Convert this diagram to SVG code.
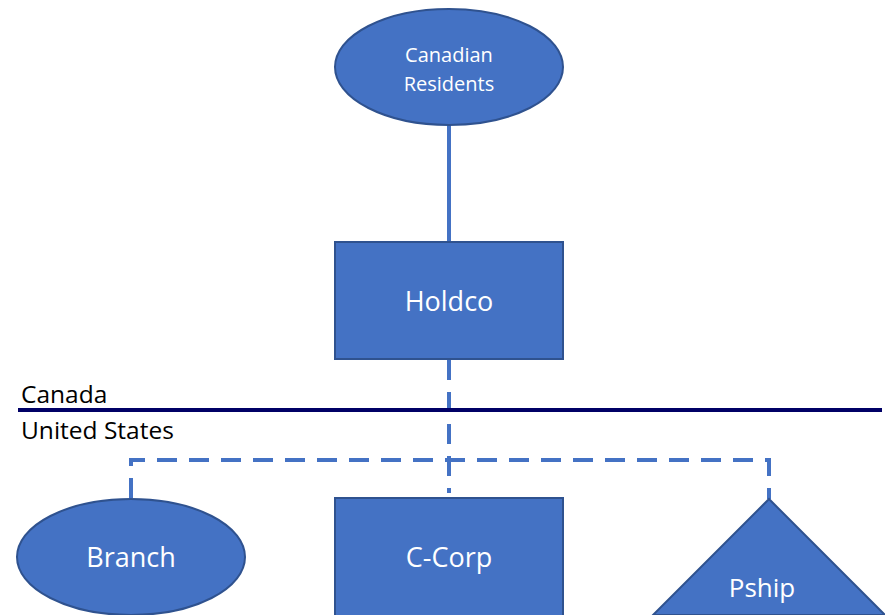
<svg xmlns="http://www.w3.org/2000/svg" width="885" height="615" viewBox="0 0 885 615">
<style>
.shape{fill:#4472C4;stroke:#2F528F;stroke-width:2}
.lbl{fill:#FFFFFF;font-family:"Open Sans","Noto Sans",sans-serif;text-anchor:middle}
.side{fill:#000000;font-family:"Open Sans","Noto Sans",sans-serif;font-size:24.5px}
.solid{stroke:#4472C4;stroke-width:4;fill:none}
.dash{stroke:#4472C4;stroke-width:4;fill:none;stroke-dasharray:20 12}
</style>
<rect width="885" height="615" fill="#FFFFFF"/>
<g id="connectors">
<line class="solid" x1="449" y1="125" x2="449" y2="242"/>
<line class="dash" x1="449" y1="360" x2="449" y2="493"/>
<polyline class="dash" points="131,498 131,460 769,460 769,499"/>
</g>
<g id="border">
<line x1="18" y1="410" x2="882" y2="410" stroke="#000066" stroke-width="4"/>
<text class="side" x="21" y="403">Canada</text>
<text class="side" x="21" y="439">United States</text>
</g>
<g id="canadian-residents">
<ellipse class="shape" cx="449" cy="67" rx="114" ry="58"/>
<text class="lbl" x="449" y="62" font-size="20">Canadian</text>
<text class="lbl" x="449" y="91" font-size="20">Residents</text>
</g>
<g id="holdco">
<rect class="shape" x="335" y="242" width="228" height="117"/>
<text class="lbl" x="449" y="311" font-size="27">Holdco</text>
</g>
<g id="branch">
<ellipse class="shape" cx="131" cy="557" rx="114" ry="58"/>
<text class="lbl" x="131" y="567" font-size="27">Branch</text>
</g>
<g id="c-corp">
<rect class="shape" x="335" y="498" width="228" height="125"/>
<text class="lbl" x="449" y="567" font-size="27">C-Corp</text>
</g>
<g id="pship">
<polygon class="shape" points="769,499 653,615 885,615"/>
<text class="lbl" x="762" y="597" font-size="26">Pship</text>
</g>
</svg>
